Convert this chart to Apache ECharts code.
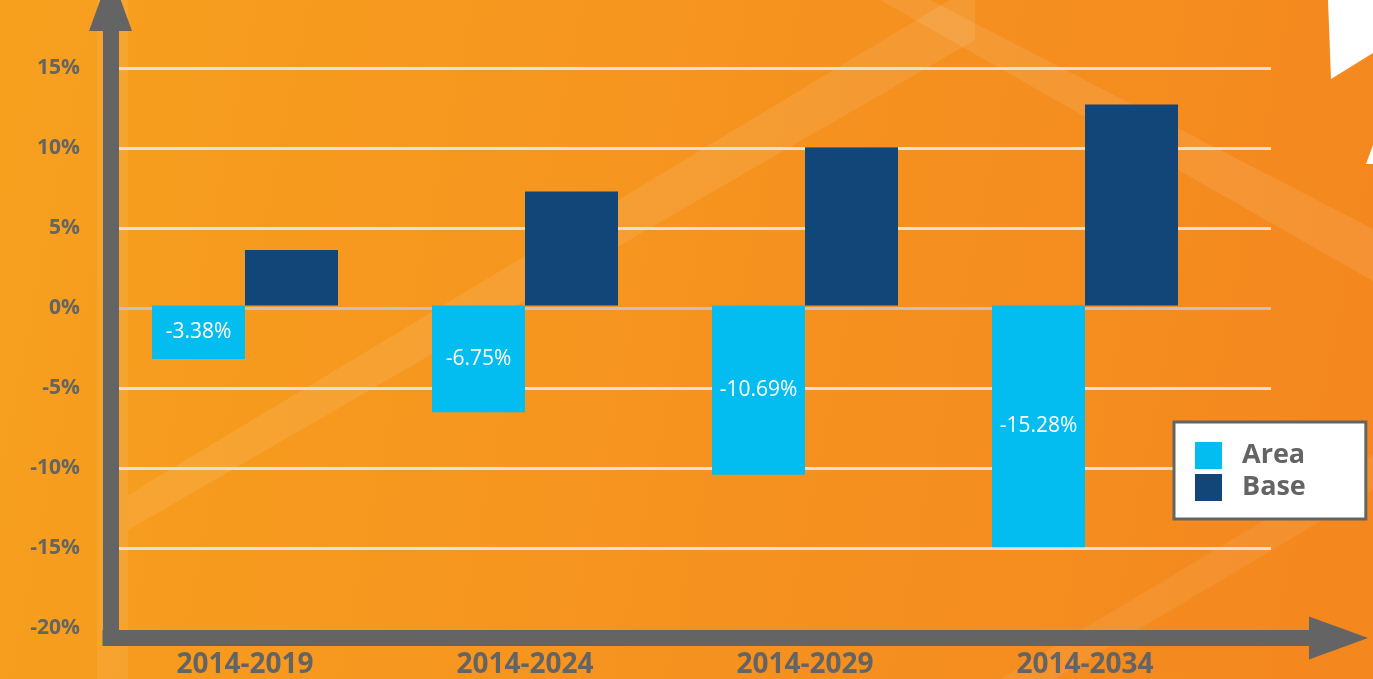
<!DOCTYPE html>
<html>
<head>
<meta charset="utf-8">
<style>
  html, body { margin: 0; padding: 0; }
  #chart { width: 1373px; height: 679px; }
</style>
<script src="https://cdn.jsdelivr.net/npm/echarts@6/dist/echarts.min.js"></script>
</head>
<body>
<div id="chart"></div>
<script>
// data
const categories = ['2014-2019', '2014-2024', '2014-2029', '2014-2034'];
const areaValues = [-3.38, -6.75, -10.69, -15.28];
const baseValues = [3.5, 7.2, 10.0, 12.7];
const seriesNames = ['Area', 'Base'];

const gray = '#646464';
const font = 'Open Sans';

const chart = echarts.init(document.getElementById('chart'));

// faint background stripes, not data
const band = 'rgba(255,255,255,0.09)';
const decor = [
  { type: 'rect', z: -1, shape: { x: 97, y: 0, width: 31, height: 679 }, style: { fill: 'rgba(255,255,255,0.08)' } },
  { type: 'polygon', z: -1, shape: { points: [[128, 495], [128, 530], [975, 40], [975, 0], [950, 0]] }, style: { fill: band } },
  { type: 'polygon', z: -1, shape: { points: [[880, 0], [930, 0], [1373, 229], [1373, 281]] }, style: { fill: band } },
  { type: 'polygon', z: -1, shape: { points: [[1000, 679], [1055, 679], [1373, 490], [1373, 455]] }, style: { fill: 'rgba(255,255,255,0.07)' } },
  { type: 'polygon', z: 5, shape: { points: [[1328, 0], [1373, 0], [1373, 53], [1331, 79]] }, style: { fill: '#fff' } },
  { type: 'polygon', z: 5, shape: { points: [[1373, 145], [1373, 164], [1366, 164]] }, style: { fill: '#fff' } }
];

const option = {
  animation: false,
  backgroundColor: {
    type: 'linear', x: 0, y: 0, x2: 1, y2: 0.4,
    colorStops: [{ offset: 0, color: '#F7A01E' }, { offset: 1, color: '#F4881F' }]
  },
  graphic: decor,
  legend: {
    data: seriesNames,
    orient: 'vertical',
    left: 1174,
    top: 422,
    icon: 'rect',
    itemWidth: 27,
    itemHeight: 27,
    itemGap: 5,
    padding: [20, 60, 18, 21],
    backgroundColor: '#fff',
    borderColor: gray,
    borderWidth: 3,
    textStyle: { fontFamily: font, fontSize: 27, fontWeight: 'bold', color: gray, padding: [0, 0, 0, 15] }
  },
  grid: [
    { left: 105, right: 148, top: 68, bottom: 51 },   // bars
    { left: 118, right: 102, top: 68, bottom: 51 },   // gridlines + y labels
    { left: 110.5, right: 34.5, top: 1.5, bottom: 41 } // thick axis arrows
  ],
  xAxis: [
    {
      gridIndex: 0, type: 'category', data: categories,
      axisLine: { show: false }, axisTick: { show: false },
      axisLabel: { margin: 29, fontFamily: font, fontSize: 28, fontWeight: 'bold', color: gray }
    },
    { gridIndex: 1, type: 'value', show: false },
    {
      gridIndex: 2, type: 'value', min: 0, max: 1,
      axisLabel: { show: false }, axisTick: { show: false }, splitLine: { show: false },
      axisLine: { onZero: false, symbol: ['none', 'triangle'], symbolSize: [43, 59],
        lineStyle: { color: gray, width: 16, cap: 'square' } }
    }
  ],
  yAxis: [
    { gridIndex: 0, type: 'value', min: -20, max: 15, interval: 5, show: false },
    {
      gridIndex: 1, type: 'value', min: -20, max: 15, interval: 5,
      axisLine: { show: false }, axisTick: { show: false },
      axisLabel: { formatter: '{value}%', margin: 38, padding: [7, 0, 0, 0],
        fontFamily: font, fontSize: 21, fontWeight: 'bold', color: gray },
      splitLine: { lineStyle: { width: 3,
        color: ['rgba(0,0,0,0)', '#E2E0DC', '#E2E0DC', '#E2E0DC', '#C2C2C2', '#E2E0DC', '#E2E0DC', '#E2E0DC'] } }
    },
    {
      gridIndex: 2, type: 'value', min: 0, max: 1,
      axisLabel: { show: false }, axisTick: { show: false }, splitLine: { show: false },
      axisLine: { onZero: false, symbol: ['none', 'triangle'], symbolSize: [43, 59],
        lineStyle: { color: gray, width: 16, cap: 'square' } }
    }
  ],
  series: [
    {
      name: seriesNames[0], type: 'bar', xAxisIndex: 0, yAxisIndex: 0,
      data: areaValues, barWidth: 93, barGap: '0%',
      itemStyle: { color: '#03BDF1' },
      label: {
        show: true, position: 'inside', color: '#fff',
        fontFamily: font, fontSize: 21,
        formatter: p => p.value.toFixed(2) + '%'
      }
    },
    {
      name: seriesNames[1], type: 'bar', xAxisIndex: 0, yAxisIndex: 0,
      data: baseValues, barWidth: 93, barGap: '0%',
      itemStyle: { color: '#124678' }
    }
  ]
};

chart.setOption(option);
</script>
</body>
</html>
